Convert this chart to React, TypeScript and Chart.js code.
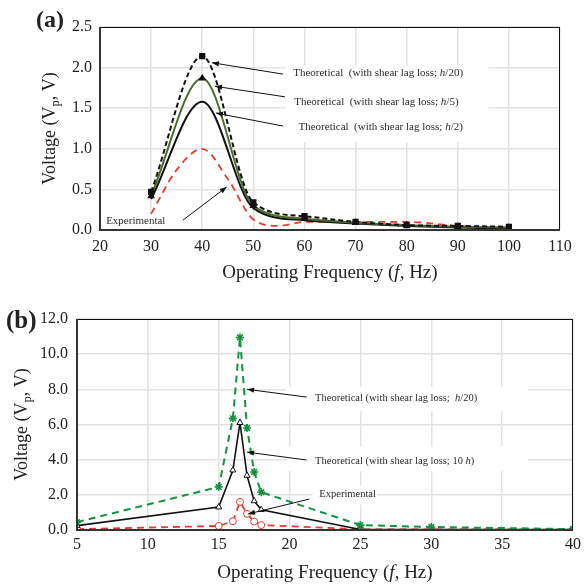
import React, { useEffect, useRef } from "react";
import { Chart, registerables } from "chart.js";
Chart.register(...registerables);

// ---------- Panel (a) data ----------
const freqA = [30, 40, 50, 60, 70, 80, 90, 100];
const vA_h20 = [0.47, 2.14, 0.34, 0.17, 0.1, 0.06, 0.05, 0.04];
const vA_h5 = [0.42, 1.87, 0.3, 0.14, 0.09, 0.06, 0.04, 0.03];
const vA_h2 = [0.38, 1.58, 0.27, 0.12, 0.08, 0.05, 0.03, 0.02];
const freqA_exp = [30, 35, 40, 45, 50, 55, 60, 70, 80, 90, 100];
const vA_exp = [0.2, 0.74, 1.0, 0.63, 0.13, 0.05, 0.1, 0.1, 0.1, 0.05, 0.03];

// ---------- Panel (b) data ----------
const freqB = [5, 15, 16, 16.5, 17, 17.5, 18, 25, 30, 40];
const vB_h20 = [0.45, 2.45, 6.35, 10.95, 5.8, 3.3, 2.15, 0.28, 0.17, 0.05];
const vB_10h = [0.25, 1.3, 3.4, 6.1, 3.1, 1.65, 1.15, 0.03, 0.02, 0.02];
const vB_exp = [0.05, 0.23, 0.5, 1.6, 0.92, 0.48, 0.28, 0.04, 0.04, 0.02];

// ---------- axis ranges ----------
const xRangeA = [20, 110, 10];
const yRangeA = [0, 2.5, 0.5];
const xRangeB = [5, 40, 5];
const yRangeB = [0, 12, 2];

const SERIF = '"Liberation Serif", "DejaVu Serif", serif';
const INK = "#222";

type Seg = { t: string; i?: boolean; b?: boolean; sub?: boolean };

function segFont(s: Seg, size: number) {
  const sz = s.sub ? size * 0.7 : size;
  return `${s.i ? "italic " : ""}${s.b ? "bold " : ""}${sz}px ${SERIF}`;
}

function drawRich(ctx: CanvasRenderingContext2D, segs: Seg[], x: number, y: number, size: number, align: "left" | "center") {
  let total = 0;
  for (const s of segs) {
    ctx.font = segFont(s, size);
    total += ctx.measureText(s.t).width;
  }
  let cx = align === "center" ? x - total / 2 : x;
  ctx.textAlign = "left";
  ctx.textBaseline = "middle";
  for (const s of segs) {
    ctx.font = segFont(s, size);
    ctx.fillText(s.t, cx, s.sub ? y + size * 0.3 : y);
    cx += ctx.measureText(s.t).width;
  }
}

function drawArrow(ctx: CanvasRenderingContext2D, x0: number, y0: number, x1: number, y1: number) {
  ctx.beginPath();
  ctx.moveTo(x0, y0);
  ctx.lineTo(x1, y1);
  ctx.stroke();
  const a = Math.atan2(y1 - y0, x1 - x0);
  const L = 7, W = 2.6;
  const c = Math.cos(a), s = Math.sin(a);
  ctx.beginPath();
  ctx.moveTo(x1, y1);
  ctx.lineTo(x1 - L * c + W * s, y1 - L * s - W * c);
  ctx.lineTo(x1 - L * c - W * s, y1 - L * s + W * c);
  ctx.closePath();
  ctx.fill();
}

type Note = { segs: Seg[]; tx: number; ty: number; from: [number, number]; to: [number, number] };
type Box = { x0: number; x1: number; y0: number; y1: number };

const theo = (tail: Seg[], gap = "  "): Seg[] => [{ t: "Theoretical" + gap + "(with shear lag loss; " }, ...tail];

const notesA: Note[] = [
  { segs: theo([{ t: "h", i: true }, { t: "/20)" }]), tx: 57.8, ty: 1.93, from: [55.8, 1.92], to: [41.9, 2.06] },
  { segs: theo([{ t: "h", i: true }, { t: "/5)" }]), tx: 58.0, ty: 1.58, from: [56.2, 1.64], to: [42.5, 1.77] },
  { segs: [{ t: " " }, ...theo([{ t: "h", i: true }, { t: "/2)" }])], tx: 58.3, ty: 1.27, from: [55.8, 1.28], to: [42.7, 1.44] },
  { segs: [{ t: "Experimental" }], tx: 21.2, ty: 0.11, from: [36.2, 0.12], to: [44.8, 0.53] },
];
const boxesA: Box[] = [
  { x0: 56.3, x1: 96, y0: 1.08, y1: 2.03 },
  { x0: 20.6, x1: 34.5, y0: 0.03, y1: 0.19 },
];

const notesB: Note[] = [
  { segs: [{ t: "Theoretical (with shear lag loss;  " }, { t: "h", i: true }, { t: "/20)" }], tx: 21.8, ty: 7.5, from: [21.2, 7.56], to: [17.0, 8.0] },
  { segs: [{ t: "Theoretical (with shear lag loss; 10 " }, { t: "h", i: true }, { t: ")" }], tx: 21.8, ty: 3.92, from: [21.2, 3.98], to: [17.0, 4.43] },
  { segs: [{ t: "Experimental" }], tx: 22.1, ty: 2.05, from: [21.4, 1.76], to: [17.07, 0.91] },
];
const boxesB: Box[] = [
  { x0: 19.8, x1: 36.8, y0: 6.75, y1: 8.15 },
  { x0: 19.8, x1: 36.8, y0: 3.35, y1: 4.75 },
  { x0: 21.6, x1: 26.2, y0: 1.45, y1: 2.55 },
];

const yTitleSegs: Seg[] = [{ t: "Voltage (V" }, { t: "p", sub: true }, { t: ", V)" }];
const xTitleSegs: Seg[] = [{ t: "Operating Frequency (" }, { t: "f", i: true }, { t: ", Hz)" }];

type Panel = {
  width: number;
  height: number;
  xr: number[];
  yr: number[];
  yAxisW: number;
  xAxisH: number;
  padRight: number;
  padTop: number;
  yTickPad: number;
  xTickPad: number;
  yTitleX: number;
  xTitleY: number;
  label: string;
  labelX: number;
  labelY: number;
  labelSize: number;
  notes: Note[];
  boxes: Box[];
  noteSize: number;
  datasets: any[];
};

const pts = (xs: number[], ys: number[]) => xs.map((x, i) => ({ x, y: ys[i] }));

const panelA: Panel = {
  width: 587,
  height: 290,
  xr: xRangeA,
  yr: yRangeA,
  yAxisW: 100,
  xAxisH: 60,
  padRight: 27,
  padTop: 27,
  yTickPad: 8,
  xTickPad: 7,
  yTitleX: 50,
  xTitleY: 273,
  label: "(a)",
  labelX: 36,
  labelY: 21,
  labelSize: 24,
  notes: notesA,
  boxes: boxesA,
  noteSize: 11,
  datasets: [
    {
      data: pts(freqA, vA_h20),
      borderColor: "#111",
      borderWidth: 2,
      borderDash: [5, 3],
      pointStyle: "rect",
      pointRadius: 3,
      pointBackgroundColor: "#111",
      pointBorderColor: "#111",
      cubicInterpolationMode: "monotone",
    },
    {
      data: pts(freqA, vA_h5),
      borderColor: "#4e6b2e",
      borderWidth: 2,
      pointStyle: "triangle",
      pointRadius: 2.5,
      pointBackgroundColor: "#111",
      pointBorderColor: "#111",
      cubicInterpolationMode: "monotone",
    },
    {
      data: pts(freqA, vA_h2),
      borderColor: "#111",
      borderWidth: 2,
      pointRadius: 0,
      cubicInterpolationMode: "monotone",
    },
    {
      data: pts(freqA_exp, vA_exp),
      borderColor: "#e53a2f",
      borderWidth: 1.8,
      borderDash: [7, 5],
      pointRadius: 0,
      cubicInterpolationMode: "monotone",
    },
  ],
};

const panelB: Panel = {
  width: 587,
  height: 295,
  xr: xRangeB,
  yr: yRangeB,
  yAxisW: 77,
  xAxisH: 55,
  padRight: 14,
  padTop: 29,
  yTickPad: 9,
  xTickPad: 5,
  yTitleX: 22,
  xTitleY: 283,
  label: "(b)",
  labelX: 6,
  labelY: 32,
  labelSize: 25,
  notes: notesB,
  boxes: boxesB,
  noteSize: 10.5,
  datasets: [
    {
      data: pts(freqB, vB_h20),
      borderColor: "#13923f",
      borderWidth: 2,
      borderDash: [7, 5],
      pointStyle: "star",
      pointRadius: 4,
      pointBorderWidth: 1.6,
      pointBackgroundColor: "#13923f",
      pointBorderColor: "#13923f",
      tension: 0,
    },
    {
      data: pts(freqB, vB_10h),
      borderColor: "#111",
      borderWidth: 1.6,
      pointStyle: "triangle",
      pointRadius: 3.5,
      pointBorderWidth: 1,
      pointBackgroundColor: "#fff",
      pointBorderColor: "#111",
      tension: 0,
    },
    {
      data: pts(freqB, vB_exp),
      borderColor: "#e53a2f",
      borderWidth: 1.8,
      borderDash: [7, 5],
      pointStyle: "circle",
      pointRadius: 3.5,
      pointBorderWidth: 1,
      pointBackgroundColor: "#fff",
      pointBorderColor: "#e53a2f",
      tension: 0,
    },
  ],
};

function makePlugin(p: Panel) {
  return {
    id: "decor",
    beforeDatasetsDraw(chart: any) {
      const ctx = chart.ctx as CanvasRenderingContext2D;
      const xs = chart.scales.x, ys = chart.scales.y;
      ctx.save();
      ctx.fillStyle = "#fff";
      for (const b of p.boxes) {
        const x0 = xs.getPixelForValue(b.x0), x1 = xs.getPixelForValue(b.x1);
        const y0 = ys.getPixelForValue(b.y0), y1 = ys.getPixelForValue(b.y1);
        ctx.fillRect(x0, y1, x1 - x0, y0 - y1);
      }
      ctx.restore();
    },
    afterDatasetsDraw(chart: any) {
      const ctx = chart.ctx as CanvasRenderingContext2D;
      const a = chart.chartArea;
      const xs = chart.scales.x, ys = chart.scales.y;
      ctx.save();
      // frame
      ctx.strokeStyle = "#111";
      ctx.lineWidth = 1;
      ctx.strokeRect(a.left + 0.5, a.top + 0.5, a.right - a.left - 1, a.bottom - a.top - 1);
      ctx.strokeStyle = "#333";
      ctx.lineWidth = 2;
      ctx.beginPath();
      ctx.moveTo(a.left, a.top);
      ctx.lineTo(a.left, a.bottom);
      ctx.lineTo(a.right, a.bottom);
      ctx.stroke();
      // annotations
      ctx.strokeStyle = "#111";
      ctx.fillStyle = "#111";
      ctx.lineWidth = 1;
      for (const n of p.notes) {
        drawArrow(
          ctx,
          xs.getPixelForValue(n.from[0]),
          ys.getPixelForValue(n.from[1]),
          xs.getPixelForValue(n.to[0]),
          ys.getPixelForValue(n.to[1])
        );
        ctx.fillStyle = "#2a2a2a";
        drawRich(ctx, n.segs, xs.getPixelForValue(n.tx), ys.getPixelForValue(n.ty), p.noteSize, "left");
        ctx.fillStyle = "#111";
      }
      // axis titles
      ctx.fillStyle = INK;
      drawRich(ctx, xTitleSegs, (a.left + a.right) / 2, p.xTitleY, 19, "center");
      ctx.save();
      ctx.translate(p.yTitleX, (a.top + a.bottom) / 2);
      ctx.rotate(-Math.PI / 2);
      drawRich(ctx, yTitleSegs, 0, 0, 18, "center");
      ctx.restore();
      // panel label
      ctx.font = `bold ${p.labelSize}px ${SERIF}`;
      ctx.textAlign = "left";
      ctx.textBaseline = "middle";
      ctx.fillText(p.label, p.labelX, p.labelY);
      ctx.restore();
    },
  };
}

function makeConfig(p: Panel): any {
  return {
    type: "line",
    data: {
      datasets: p.datasets.map((d) => ({ fill: false, tension: 0.4, ...d })),
    },
    options: {
      responsive: false,
      animation: false,
      devicePixelRatio: 1,
      layout: { padding: { left: 0, right: p.padRight, top: p.padTop, bottom: 0 } },
      plugins: { legend: { display: false }, tooltip: { enabled: false }, title: { display: false } },
      scales: {
        x: {
          type: "linear",
          min: p.xr[0],
          max: p.xr[1],
          border: { display: false },
          grid: { color: "#e2e2e2", lineWidth: 1.5, drawTicks: false },
          ticks: {
            stepSize: p.xr[2],
            padding: p.xTickPad,
            color: INK,
            font: { family: SERIF, size: 16 },
            maxRotation: 0,
            autoSkip: false,
            callback: (v: any) => String(v),
          },
          afterFit: (s: any) => {
            s.height = p.xAxisH;
            s.paddingLeft = 0;
            s.paddingRight = 0;
          },
        },
        y: {
          type: "linear",
          min: p.yr[0],
          max: p.yr[1],
          border: { display: false },
          grid: { color: "#e2e2e2", lineWidth: 1.5, drawTicks: false },
          ticks: {
            stepSize: p.yr[2],
            padding: p.yTickPad,
            color: INK,
            font: { family: SERIF, size: 16 },
            autoSkip: false,
            callback: (v: any) => Number(v).toFixed(1),
          },
          afterFit: (s: any) => {
            s.width = p.yAxisW;
            s.paddingTop = 0;
            s.paddingBottom = 0;
          },
        },
      },
    },
    plugins: [makePlugin(p)],
  };
}

function PanelChart({ panel, top }: { panel: Panel; top: number }) {
  const ref = useRef<HTMLCanvasElement | null>(null);
  useEffect(() => {
    if (!ref.current) return;
    const chart = new Chart(ref.current, makeConfig(panel));
    return () => chart.destroy();
  }, [panel]);
  return (
    <canvas
      ref={ref}
      width={panel.width}
      height={panel.height}
      style={{ position: "absolute", left: 0, top, width: panel.width, height: panel.height, display: "block" }}
    />
  );
}

export default function App() {
  return (
    <div style={{ position: "absolute", left: 0, top: 0, width: 587, height: 585, background: "#fff" }}>
      <PanelChart panel={panelA} top={0} />
      <PanelChart panel={panelB} top={290} />
    </div>
  );
}
